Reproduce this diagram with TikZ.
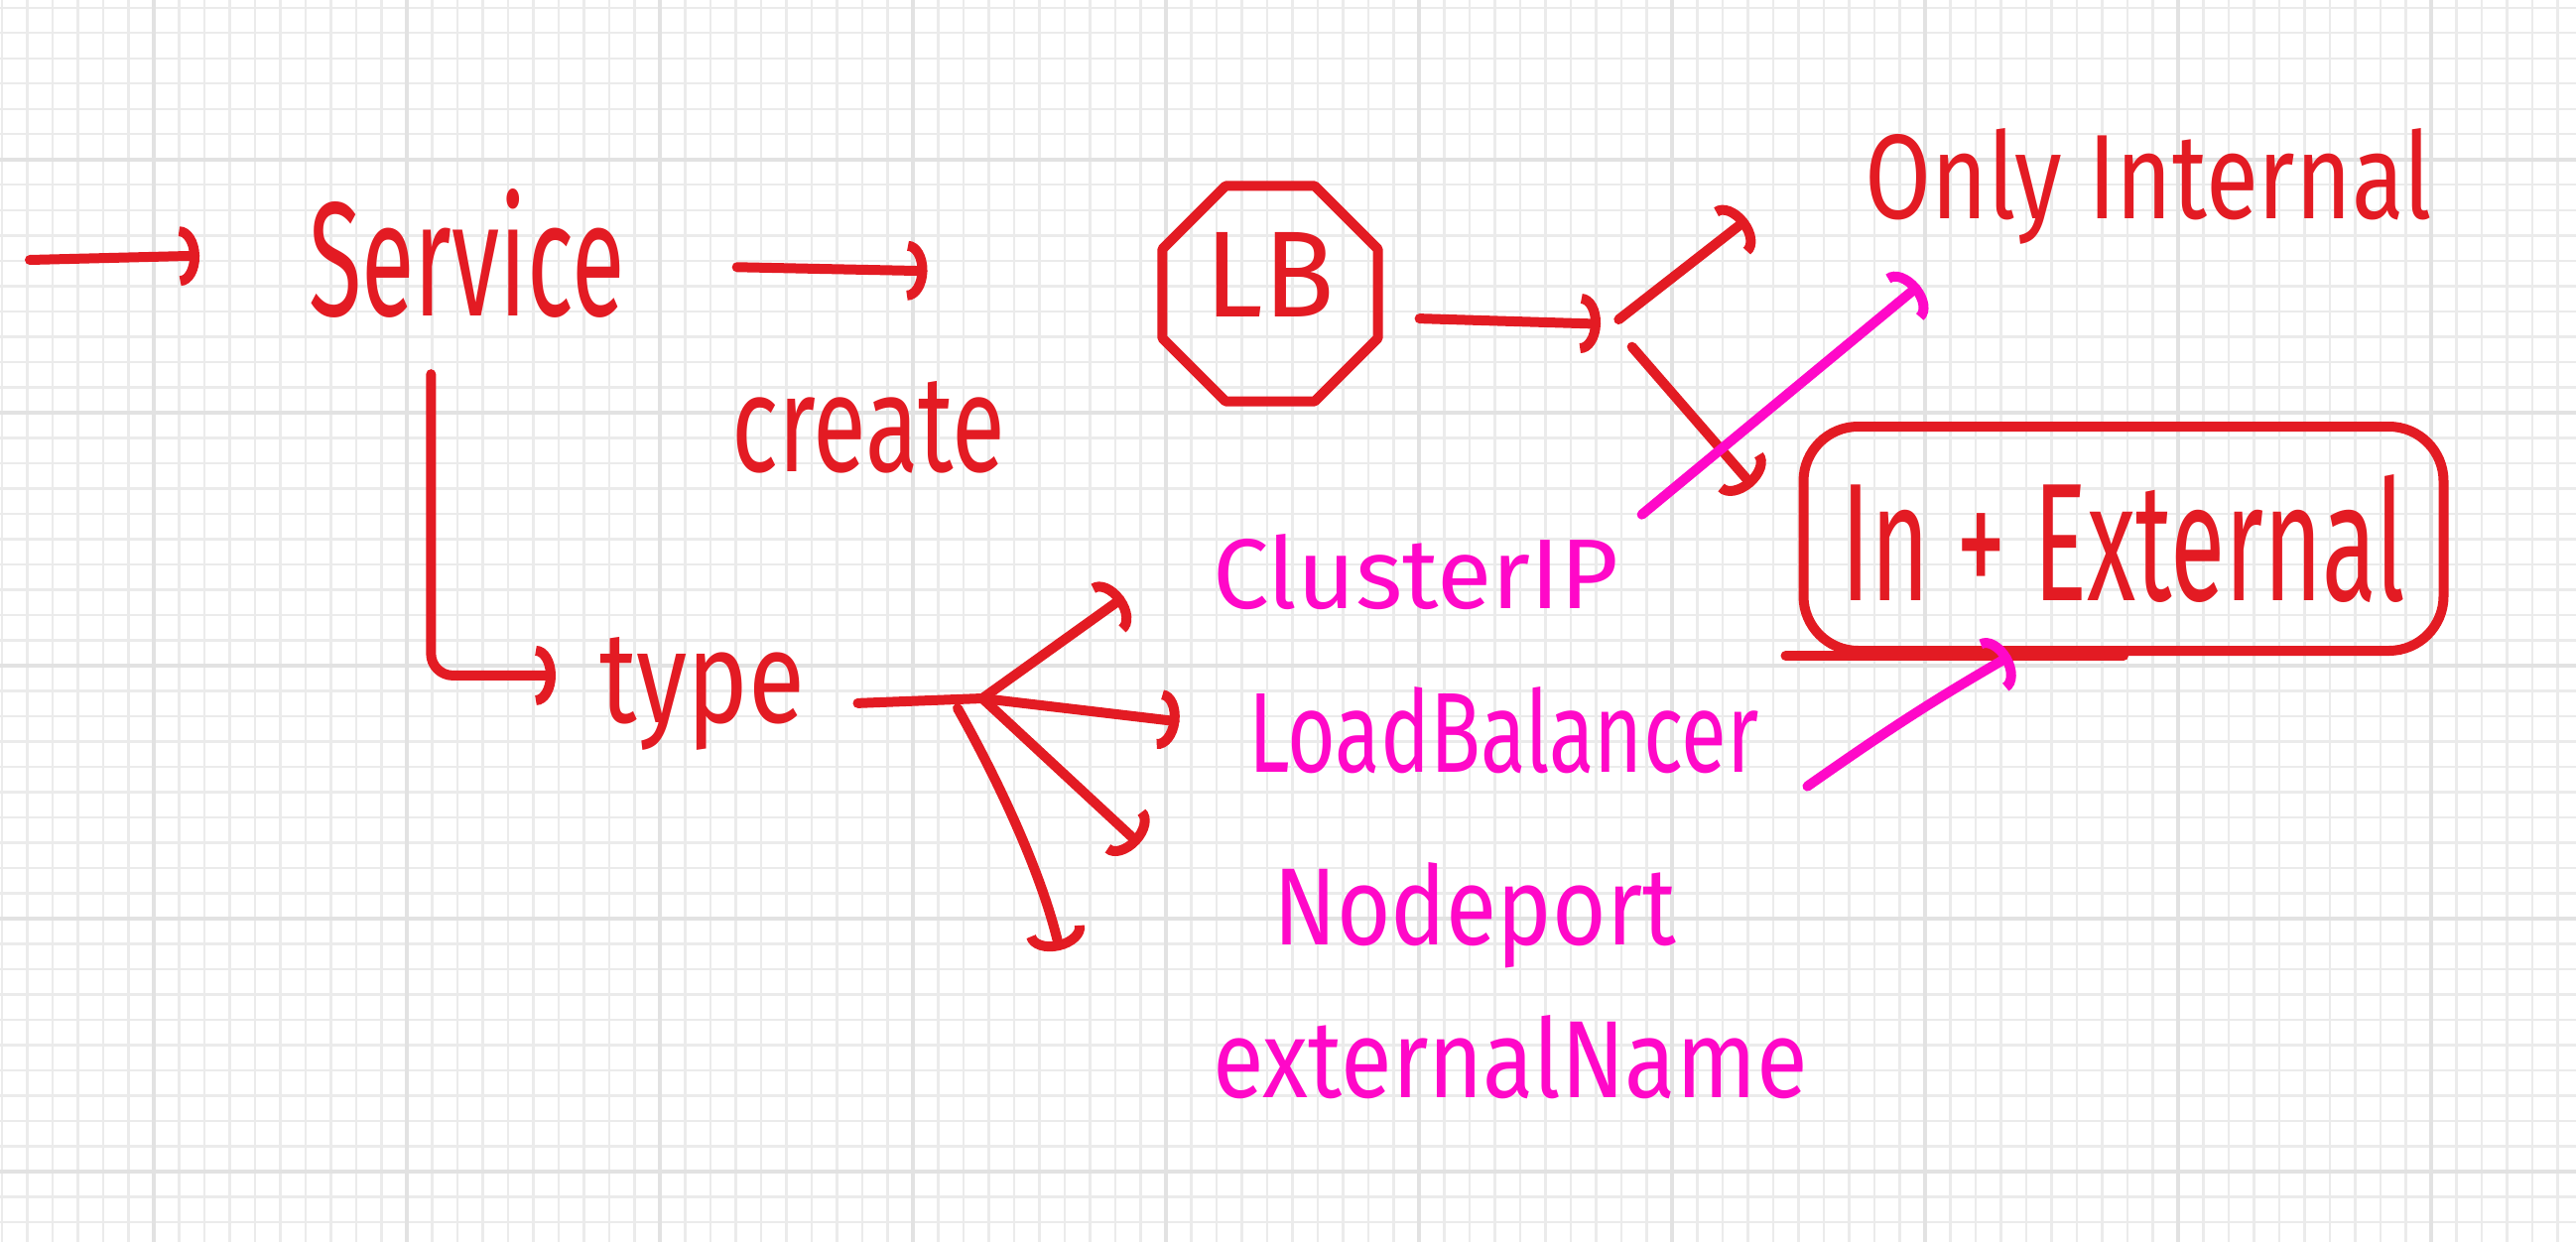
\documentclass[tikz,border=0pt]{standalone}
\usepackage{fontspec}
\setmainfont{Fira Sans}
\usepackage{graphicx}
\usetikzlibrary{arrows.meta,shapes.geometric}
\definecolor{penred}{HTML}{E31B23}
\definecolor{penpink}{HTML}{FF08C8}
\definecolor{gridminor}{HTML}{EBEBEB}
\definecolor{gridmajor}{HTML}{E2E2E2}
\newcommand{\hw}[3]{\resizebox{#1pt}{#2pt}{#3}}
\begin{document}
\begin{tikzpicture}[x=1pt,y=-1pt,
  ink/.style={line width=10pt,line cap=round,line join=round},
  rarr/.style={ink,draw=penred,-{Arc Barb[length=20pt,width=60pt]}},
  parr/.style={ink,draw=penpink,-{Arc Barb[length=20pt,width=60pt]}},
  rline/.style={ink,draw=penred},
  lbl/.style={inner sep=0pt,anchor=base west},
  rtxt/.style={lbl,text=penred},
  ptxt/.style={lbl,text=penpink},
  minorline/.style={draw=gridminor,line width=2.2pt},
  majorline/.style={draw=gridmajor,line width=4pt}
]
\fill[white] (0,0) rectangle (2596,1252);
\useasboundingbox (0,0) rectangle (2596,1252);
% grid
\foreach \i in {0,...,101} \draw[minorline] (2+25.5*\i,0) -- (2+25.5*\i,1252);
\foreach \i in {0,...,48} \draw[minorline] (0,7.9+25.5*\i) -- (2596,7.9+25.5*\i);
\foreach \i in {0,...,9} \draw[majorline] (155+255*\i,0) -- (155+255*\i,1252);
\foreach \i in {0,...,4} \draw[majorline] (0,161+255*\i) -- (2596,161+255*\i);

% nodes
\node[rtxt] (svc) at (311,318) {\hw{318}{128}{Service}};
\node[rtxt] (create) at (737,475) {\hw{276}{91}{create}};
\node[draw=penred,line width=10pt,line join=round,regular polygon,regular polygon sides=8,
      minimum size=235pt,inner sep=0pt,text=penred] (lb) at (1280,296)
      {\raisebox{-24pt}[0pt][0pt]{\hw{130}{85}{LB}}};
\node[rtxt] (oi) at (1879,220) {\hw{571}{91}{Only Internal}};
\node[draw=penred,line width=10pt,rounded corners=55pt,minimum width=645pt,
      minimum height=226pt,inner sep=0pt,text=penred] (ie) at (2140,543)
      {\hw{568}{127}{In + External}};
\node[rtxt] (type) at (604,728) {\hw{207}{86}{type}};
\node[ptxt] (cip) at (1222,613) {\hw{409}{75}{ClusterIP}};
\node[ptxt] (lbal) at (1258,778) {\hw{514}{86}{LoadBalancer}};
\node[ptxt] (np) at (1283,952) {\hw{406}{83}{Nodeport}};
\node[ptxt] (en) at (1222,1106) {\hw{599}{83}{externalName}};

\coordinate (in) at (30,262);
\coordinate (split) at (1625,327);
\coordinate (fan) at (990,704);
\coordinate (enarr) at (1068,958);

% red connectors
\draw[rarr,shorten >=110pt] (in) -- (svc.west);
\draw[rarr,shorten <=113pt,shorten >=232pt] ([yshift=-12pt]svc.east) -- ([yshift=18pt]lb.west);
\draw[rarr,shorten <=37pt,shorten >=12pt] ([yshift=-24pt]lb.east) -- (split);
\draw[rarr,shorten <=8pt,shorten >=150pt] (split) -- (oi.north west);
\draw[rarr,shorten <=30pt,shorten >=70pt] (split) -- (ie.west);
\draw[rline] ([xshift=-13pt]ie.south west) -- (ie.south);
\draw[rarr,rounded corners=22pt,shorten <=57pt,shorten >=44pt] ([xshift=-36pt]svc.south) |- ([yshift=18pt]type.west);
\draw[rline,shorten <=53pt] ([yshift=-12pt]type.east) -- (fan);
\draw[rarr,shorten >=110pt] (fan) -- (cip.north west);
\draw[rarr,shorten >=70pt] (fan) -- (lbal.west);
\draw[rarr,shorten >=184pt] (fan) -- (np.south west);
\draw[rarr] ([xshift=-25pt,yshift=-10pt]fan) .. controls (1005,785) and (1050,880) .. (enarr);

% pink connectors
\draw[parr,shorten <=30pt,shorten >=65pt] (cip.north east) -- (oi.198);
\draw[parr] ([xshift=49pt,yshift=-13pt]lbal.south east) to[out=35,in=-150] (ie.226);
\end{tikzpicture}
\end{document}
